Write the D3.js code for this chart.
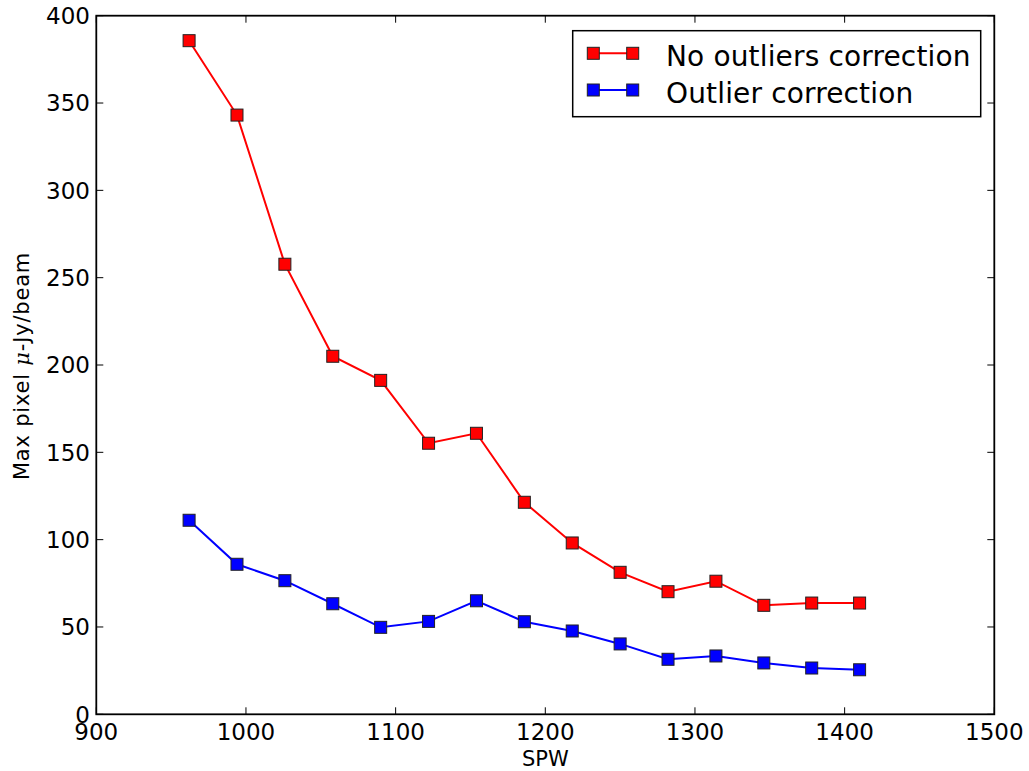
<!DOCTYPE html>
<html>
<head>
<meta charset="utf-8">
<script src="https://cdn.jsdelivr.net/npm/d3@7"></script>
<style>
  body { margin: 0; background: #fff; }
  svg { display: block; font-family: "DejaVu Sans", sans-serif; }
</style>
</head>
<body>
<svg id="chart"></svg>
<script>
var spw = [962, 994, 1026, 1058, 1090, 1122, 1154, 1186, 1218, 1250, 1282, 1314, 1346, 1378, 1410];
var noCorrection = [385.7, 343.1, 257.7, 205.0, 191.2, 155.2, 160.9, 121.4, 98.1, 81.3, 70.2, 76.2, 62.4, 63.7, 63.7];
var withCorrection = [111.1, 85.9, 76.5, 63.3, 49.8, 53.2, 65.0, 53.0, 47.7, 40.3, 31.5, 33.4, 29.4, 26.5, 25.5];
var xTicks = [900, 1000, 1100, 1200, 1300, 1400, 1500];
var yTicks = [0, 50, 100, 150, 200, 250, 300, 350, 400];
var seriesNames = ["No outliers correction", "Outlier correction"];
var seriesColors = ["#ff0000", "#0000ff"];

(function () {
    var width = 1029, height = 771;
    var left = 96.3, right = 994.3, top = 15.7, bottom = 714.3;

    var svg = d3.select("#chart")
        .attr("width", width)
        .attr("height", height);

    var x = d3.scaleLinear().domain([900, 1500]).range([left, right]);
    var y = d3.scaleLinear().domain([0, 400]).range([bottom, top]);

    var tickLen = 7;

    // ticks, pointing inward on all four sides
    var g = svg.append("g").attr("stroke", "#000").attr("stroke-width", 1);
    xTicks.forEach(function (t) {
        g.append("line").attr("x1", x(t)).attr("x2", x(t)).attr("y1", bottom).attr("y2", bottom - tickLen);
        g.append("line").attr("x1", x(t)).attr("x2", x(t)).attr("y1", top).attr("y2", top + tickLen);
    });
    yTicks.forEach(function (t) {
        g.append("line").attr("x1", left).attr("x2", left + tickLen).attr("y1", y(t)).attr("y2", y(t));
        g.append("line").attr("x1", right).attr("x2", right - tickLen).attr("y1", y(t)).attr("y2", y(t));
    });

    svg.selectAll(".xlab").data(xTicks).enter().append("text")
        .attr("x", function (d) { return x(d); })
        .attr("y", 740)
        .attr("text-anchor", "middle")
        .attr("font-size", 23)
        .text(function (d) { return d; });

    svg.selectAll(".ylab").data(yTicks).enter().append("text")
        .attr("x", 90)
        .attr("y", function (d) { return y(d) + 8.4; })
        .attr("text-anchor", "end")
        .attr("font-size", 23)
        .text(function (d) { return d; });

    // axis titles
    svg.append("text")
        .attr("x", (left + right) / 2)
        .attr("y", 766)
        .attr("text-anchor", "middle")
        .attr("font-size", 21)
        .text("SPW");

    var yl = svg.append("text")
        .attr("transform", "translate(29,366) rotate(-90)")
        .attr("text-anchor", "middle")
        .attr("font-size", 21)
        .attr("letter-spacing", 0.8);
    yl.append("tspan").text("Max pixel ");
    yl.append("tspan").attr("font-family", "DejaVu Serif").attr("font-style", "italic").text("\u03bc");
    yl.append("tspan").text("-Jy/beam");

    // series
    var line = d3.line()
        .x(function (d) { return x(d[0]); })
        .y(function (d) { return y(d[1]); });

    var ms = 12;
    [noCorrection, withCorrection].forEach(function (vals, i) {
        var pts = spw.map(function (s, j) { return [s, vals[j]]; });
        svg.append("path")
            .datum(pts)
            .attr("d", line)
            .attr("fill", "none")
            .attr("stroke", seriesColors[i])
            .attr("stroke-width", 2);
        svg.selectAll(".m" + i).data(pts).enter().append("rect")
            .attr("x", function (d) { return x(d[0]) - ms / 2; })
            .attr("y", function (d) { return y(d[1]) - ms / 2; })
            .attr("width", ms)
            .attr("height", ms)
            .attr("fill", seriesColors[i])
            .attr("stroke", "#222")
            .attr("stroke-width", 1);
    });

    // frame
    svg.append("rect")
        .attr("x", left).attr("y", top)
        .attr("width", right - left).attr("height", bottom - top)
        .attr("fill", "none").attr("stroke", "#000").attr("stroke-width", 1.8);

    // legend
    var lg = svg.append("g");
    lg.append("rect")
        .attr("x", 572.7).attr("y", 30.7)
        .attr("width", 408).attr("height", 86)
        .attr("fill", "#fff").attr("stroke", "#000").attr("stroke-width", 1.5);
    seriesNames.forEach(function (name, i) {
        var ly = 53.3 + i * 36.7;
        lg.append("line")
            .attr("x1", 593.3).attr("x2", 632.7).attr("y1", ly).attr("y2", ly)
            .attr("stroke", seriesColors[i]).attr("stroke-width", 2);
        [593.3, 632.7].forEach(function (mx) {
            lg.append("rect")
                .attr("x", mx - ms / 2).attr("y", ly - ms / 2)
                .attr("width", ms).attr("height", ms)
                .attr("fill", seriesColors[i]).attr("stroke", "#222").attr("stroke-width", 1);
        });
        lg.append("text")
            .attr("x", 666)
            .attr("y", ly + 12.8)
            .attr("font-size", 28)
            .attr("letter-spacing", 0.15)
            .text(name);
    });
})();
</script>
</body>
</html>
